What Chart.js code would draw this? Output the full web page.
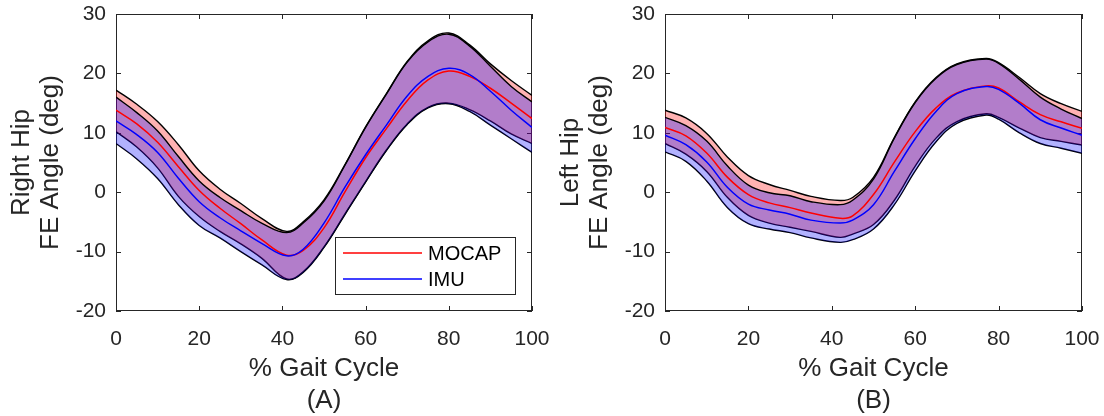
<!DOCTYPE html>
<html><head><meta charset="utf-8">
<script src="https://cdn.jsdelivr.net/npm/chart.js@4.4.0/dist/chart.umd.min.js"></script>
<style>
html,body{margin:0;padding:0;background:#fff;}
#wrap{position:relative;width:1104px;height:416px;overflow:hidden;background:#fff;}
canvas{position:absolute;top:0;}
#cA{left:0;} #cB{left:549px;}
</style></head><body>
<div id="wrap"><canvas id="cA" width="552" height="416"></canvas><canvas id="cB" width="555" height="416"></canvas></div>
<script>
// ---------- data ----------
const seriesNames = ['MOCAP', 'IMU'];
const xTickValues = [0, 20, 40, 60, 80, 100];
const yTickValues = [-20, -10, 0, 10, 20, 30];

// (A) Right hip
const xA = [0,5,10,15,20,25,30,35,41,45,50,55,60,65,70,75,80,85,90,95,100];
const mocapMeanA  = [13.8,11.5,8.4,4.3,0.3,-2.7,-5.3,-8.0,-10.6,-9.8,-6.0,0.0,5.8,10.7,15.4,18.9,20.4,19.5,17.5,15.0,12.4];
const mocapUpperA = [17.2,14.8,11.9,8.0,3.6,0.5,-1.9,-4.4,-6.6,-5.0,-1.3,4.6,11.0,16.6,22.0,25.5,26.8,24.8,21.6,18.8,16.3];
const mocapLowerA = [10.2,7.6,4.1,-0.7,-4.1,-6.6,-8.7,-11.1,-14.6,-13.4,-9.2,-3.7,1.8,7.1,11.5,14.3,15.0,13.9,12.0,9.8,8.2];
const imuMeanA    = [12.0,9.7,6.7,2.35,-1.6,-4.3,-6.5,-8.6,-10.7,-9.6,-5.2,0.8,6.3,11.3,16.2,19.5,20.85,19.8,17.0,13.8,10.9];
const imuUpperA   = [16.0,13.4,10.3,6.0,1.9,-0.9,-3.1,-5.2,-6.8,-5.2,-1.5,4.5,10.9,16.5,21.9,25.3,26.6,24.6,21.2,17.8,15.2];
const imuLowerA   = [8.2,5.6,2.3,-2.1,-5.6,-7.7,-10.0,-12.2,-14.7,-13.5,-9.3,-3.8,1.7,7.0,11.4,14.2,14.9,13.6,11.3,9.0,6.7];

// (B) Left hip
const xB = [0,5,10,15,20,25,30,35,42,45,50,55,60,65,70,77,80,85,90,95,100];
const mocapMeanB  = [10.9,9.5,6.6,2.5,-0.4,-1.8,-2.6,-3.5,-4.4,-4.0,-0.4,5.05,10.2,14.2,16.7,17.9,17.55,15.2,13.05,11.85,10.75];
const mocapUpperB = [13.8,12.5,9.9,5.9,2.8,1.3,0.3,-0.7,-1.4,-0.9,2.5,9.2,15.2,19.3,21.6,22.5,21.8,19.3,16.6,14.9,13.6];
const mocapLowerB = [8.2,6.4,3.5,-0.9,-3.9,-5.2,-5.9,-6.6,-7.6,-7.05,-5.45,-1.35,4.4,9.1,11.9,13.2,12.6,10.8,9.2,8.55,7.95];
const imuMeanB    = [9.6,8.0,5.1,0.8,-2.0,-3.0,-3.7,-4.7,-5.2,-4.7,-2.1,3.5,9.0,13.6,16.6,17.8,17.3,14.95,12.2,10.8,9.6];
const imuUpperB   = [12.6,11.2,8.6,4.4,1.2,-0.1,-0.6,-1.6,-2.1,-1.35,2.2,9.1,15.1,19.2,21.5,22.4,21.7,19.0,16.0,14.0,12.4];
const imuLowerB   = [6.8,5.2,1.9,-2.6,-5.3,-6.2,-6.8,-7.7,-8.45,-8.0,-6.2,-2.1,3.6,8.5,11.6,13.0,12.3,10.0,8.2,7.4,6.55];

// ---------- styling ----------
const AX = '#262626';
const FONT = 'Liberation Sans, Arial, Helvetica, sans-serif';

const axesBox = {
  id: 'axesBox',
  beforeDatasetsDraw(chart) {
    const {ctx, chartArea: a, scales: {x, y}} = chart;
    ctx.save();
    ctx.strokeStyle = AX; ctx.lineWidth = 1;
    const L = 5;
    ctx.beginPath();
    x.ticks.forEach(t => {
      const px = Math.round(x.getPixelForValue(t.value)) + 0.5;
      ctx.moveTo(px, a.bottom); ctx.lineTo(px, a.bottom - L);
      ctx.moveTo(px, a.top); ctx.lineTo(px, a.top + L);
    });
    y.ticks.forEach(t => {
      const py = Math.round(y.getPixelForValue(t.value)) + 0.5;
      ctx.moveTo(a.left, py); ctx.lineTo(a.left + L, py);
      ctx.moveTo(a.right, py); ctx.lineTo(a.right - L, py);
    });
    ctx.stroke();
    ctx.strokeRect(Math.round(a.left) + 0.5, Math.round(a.top) + 0.5,
                   Math.round(a.right - a.left) - 1, Math.round(a.bottom - a.top) - 1);
    ctx.restore();
  }
};

const legendBox = {
  id: 'legendBox',
  afterDatasetsDraw(chart, args, opts) {
    if (!opts.show) return;
    const {ctx, chartArea: a} = chart;
    const w = 180, h = 57;
    const bx = Math.round(a.right - 17 - w), by = Math.round(a.bottom - 17 - h);
    ctx.save();
    ctx.fillStyle = '#fff';
    ctx.fillRect(bx, by, w, h);
    ctx.strokeStyle = AX; ctx.lineWidth = 1;
    ctx.strokeRect(bx + 0.5, by + 0.5, w, h);
    const items = [chart.data.datasets[4], chart.data.datasets[5]];
    items.forEach((ds, i) => {
      const yy = by + 16 + i * 26;
      ctx.strokeStyle = ds.borderColor; ctx.lineWidth = 1.5;
      ctx.beginPath(); ctx.moveTo(bx + 8, yy); ctx.lineTo(bx + 87, yy); ctx.stroke();
      ctx.fillStyle = '#000';
      ctx.font = '20px ' + FONT;
      ctx.textBaseline = 'middle';
      ctx.fillText(ds.label, bx + 93, yy + 1);
    });
    ctx.restore();
  }
};

function pts(xs, ys) { return xs.map((v, i) => ({x: v, y: ys[i]})); }

function makeChart(id, xs, mMean, mUp, mLo, iMean, iUp, iLo, yTitle, xTitle, showLegend, padRight) {
  const band = {borderColor: '#000', borderWidth: 1.4, pointRadius: 0, tension: 0.4};
  return new Chart(document.getElementById(id), {
    type: 'line',
    data: {
      datasets: [
        Object.assign({label: seriesNames[0] + ' lower', data: pts(xs, mLo), fill: false, order: 6}, band),
        Object.assign({label: seriesNames[0] + ' upper', data: pts(xs, mUp), fill: 0, backgroundColor: 'rgba(255,0,0,0.3)', order: 5}, band),
        Object.assign({label: seriesNames[1] + ' lower', data: pts(xs, iLo), fill: false, order: 4}, band),
        Object.assign({label: seriesNames[1] + ' upper', data: pts(xs, iUp), fill: 2, backgroundColor: 'rgba(0,0,255,0.3)', order: 3}, band),
        {label: seriesNames[0], data: pts(xs, mMean), borderColor: '#ff0000', borderWidth: 1.5, pointRadius: 0, fill: false, tension: 0.4, order: 2},
        {label: seriesNames[1], data: pts(xs, iMean), borderColor: '#0000ff', borderWidth: 1.5, pointRadius: 0, fill: false, tension: 0.4, order: 1}
      ]
    },
    options: {
      responsive: false, animation: false, devicePixelRatio: 1,
      layout: {padding: {top: 14, right: padRight, bottom: 0, left: 0}},
      plugins: {legend: {display: false}, tooltip: {enabled: false}, legendBox: {show: showLegend}},
      scales: {
        x: {
          type: 'linear', min: 0, max: 100,
          afterBuildTicks: s => { s.ticks = xTickValues.map(v => ({value: v})); },
          grid: {display: false, drawTicks: false}, border: {display: false},
          ticks: {color: AX, font: {family: FONT, size: 21}, padding: 16, maxRotation: 0},
          title: {display: true, text: xTitle, color: AX, font: {family: FONT, size: 26, lineHeight: 1.2}, padding: {top: 0, bottom: 0}},
          afterFit: s => { s.height = 105; s.paddingLeft = 0; s.paddingRight = 0; }
        },
        y: {
          type: 'linear', min: -20, max: 30,
          afterBuildTicks: s => { s.ticks = yTickValues.map(v => ({value: v})); },
          grid: {display: false, drawTicks: false}, border: {display: false},
          ticks: {color: AX, font: {family: FONT, size: 21}, padding: 10},
          title: {display: true, text: yTitle, color: AX, font: {family: FONT, size: 26, lineHeight: 1.09}, padding: {top: 8, bottom: 0}},
          afterFit: s => { s.width = 116; s.paddingTop = 0; s.paddingBottom = 0; }
        }
      }
    },
    plugins: [axesBox, legendBox]
  });
}

makeChart('cA', xA, mocapMeanA, mocapUpperA, mocapLowerA, imuMeanA, imuUpperA, imuLowerA,
          ['Right Hip', 'FE Angle (deg)'], ['% Gait Cycle', '(A)'], true, 20);
makeChart('cB', xB, mocapMeanB, mocapUpperB, mocapLowerB, imuMeanB, imuUpperB, imuLowerB,
          ['Left Hip', 'FE Angle (deg)'], ['% Gait Cycle', '(B)'], false, 22);
</script></body></html>
